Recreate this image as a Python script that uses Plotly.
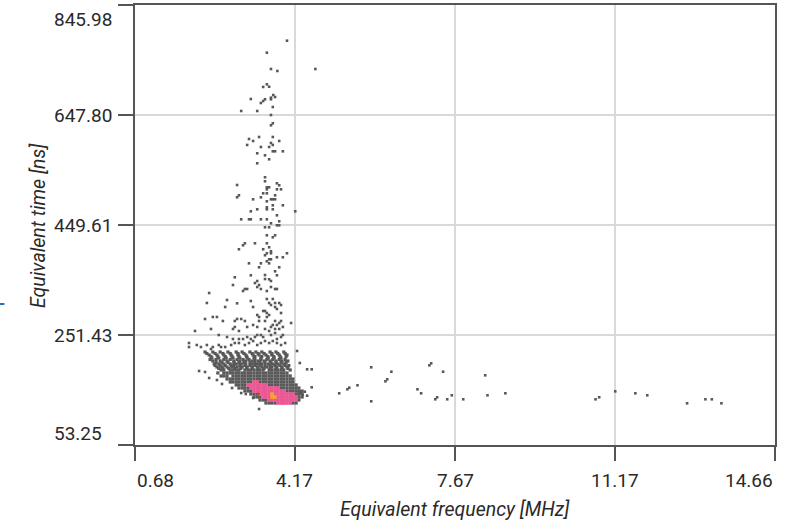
import plotly.graph_objects as go

# ---------------- axis ticks ----------------
x_ticks = [0.68, 4.17, 7.67, 11.17, 14.66]
x_tick_labels = ["0.68", "4.17", "7.67", "11.17", "14.66"]
y_ticks = [53.25, 251.43, 449.61, 647.80, 845.98]
y_tick_labels = ["53.25", "251.43", "449.61", "647.80", "845.98"]

# ---------------- sparse points (frequency MHz, time ns) ----------------
column_points = [
    (4.00, 781.7), (3.56, 760.1), (3.65, 730.7), (3.79, 727.1), (4.62, 730.7), (3.56, 703.1),
    (3.61, 698.8), (3.48, 698.3), (3.70, 683.8), (3.74, 680.2), (3.65, 679.0), (3.65, 676.1),
    (3.52, 676.1), (3.48, 673.0), (3.43, 669.4), (3.21, 676.6), (3.00, 655.0), (3.35, 655.0),
    (3.69, 662.2), (3.65, 647.8), (3.69, 632.8), (3.65, 629.3), (3.39, 608.2), (3.17, 604.6),
    (3.26, 601.0), (3.69, 608.2), (3.83, 601.0), (3.65, 597.4), (3.69, 593.8), (3.13, 593.8),
    (3.43, 590.2), (3.61, 590.2), (3.35, 578.8), (3.52, 575.2), (3.61, 568.0), (3.69, 582.4),
    (3.74, 582.4), (3.91, 582.4), (3.35, 560.8), (3.52, 535.6), (3.52, 528.4), (2.91, 521.7),
    (3.78, 524.7), (3.83, 521.2), (3.56, 517.6), (3.61, 517.6), (3.56, 513.9), (3.78, 513.9),
    (3.87, 513.9), (3.48, 506.7), (3.56, 506.7), (2.95, 503.1), (2.91, 499.5), (3.43, 499.5),
    (3.74, 503.1), (3.26, 495.9), (3.65, 495.9), (3.69, 495.9), (3.74, 495.9), (3.56, 492.3),
    (3.69, 485.1), (3.91, 485.1), (3.56, 481.5), (3.56, 477.9), (3.69, 477.9), (3.35, 477.9),
    (3.21, 474.3), (4.18, 474.3), (3.78, 467.1), (3.00, 459.9), (3.17, 459.9), (3.21, 459.9),
    (3.43, 459.9), (3.56, 459.9), (3.83, 456.3), (3.65, 452.7), (3.78, 449.1), (3.83, 449.1),
    (3.52, 445.5), (3.61, 445.5), (3.56, 431.1), (3.74, 431.1), (3.69, 427.5), (3.08, 416.7),
    (3.04, 413.1), (3.30, 416.7), (3.56, 416.7), (2.95, 405.9), (3.61, 409.5), (3.48, 405.9),
    (3.65, 402.3), (3.65, 398.7), (3.56, 398.7), (4.00, 398.7), (3.52, 395.1), (3.78, 391.5),
    (3.91, 391.5), (3.65, 387.8), (3.61, 387.8), (3.56, 384.2), (3.17, 380.6), (3.43, 380.6),
    (3.61, 380.6), (3.39, 373.4), (3.83, 373.4), (3.74, 366.2), (3.78, 359.0), (3.21, 359.0),
    (2.86, 355.4), (3.61, 351.8),
]

spread_points = [
    (3.52, 359.5), (3.35, 348.7), (3.52, 352.3), (3.65, 348.7), (3.30, 345.1), (3.39, 341.5),
    (3.35, 337.9), (3.43, 334.3), (3.65, 337.9), (3.74, 334.3), (3.78, 334.3), (3.56, 330.7),
    (3.08, 334.3), (3.13, 334.3), (3.04, 330.7), (2.82, 341.5), (2.30, 327.1), (2.69, 314.5),
    (2.25, 309.1), (2.65, 301.9), (3.21, 312.7), (3.26, 301.9), (3.56, 316.3), (3.69, 316.3),
    (3.61, 309.1), (3.65, 305.5), (3.74, 309.1), (3.83, 309.1), (3.87, 305.5), (3.74, 301.9),
    (3.78, 298.3), (2.91, 308.5), (2.38, 283.9), (2.47, 283.9), (3.48, 294.7), (3.52, 294.7),
    (3.56, 291.1), (3.35, 287.5), (3.39, 283.9), (3.56, 283.9), (3.61, 287.5), (3.87, 291.1),
    (2.91, 280.3), (3.00, 280.3), (2.86, 276.7), (3.08, 276.7), (2.21, 280.3), (2.60, 276.7),
    (3.39, 276.7), (3.52, 276.7), (3.74, 276.7), (3.83, 273.1), (3.87, 276.7), (3.78, 269.5),
    (3.69, 269.5), (3.65, 265.9), (3.74, 262.3), (3.26, 269.5), (3.35, 265.9), (3.13, 265.9),
    (2.86, 265.9), (2.82, 262.3), (2.95, 258.7), (3.52, 262.3), (3.61, 258.7), (3.83, 262.3),
    (3.91, 265.9), (4.09, 273.1), (1.99, 258.7), (2.34, 262.3), (2.51, 251.4), (2.69, 247.8),
    (2.82, 244.2), (2.95, 244.2), (3.04, 244.2), (3.13, 247.8), (3.21, 244.2), (3.30, 247.8),
    (3.35, 251.4), (3.43, 251.4), (3.48, 247.8), (3.65, 251.4), (3.74, 255.1), (3.78, 244.2),
    (3.87, 247.8), (3.91, 251.4), (1.86, 237.0), (1.86, 229.8), (2.03, 233.4), (2.12, 229.8),
    (2.25, 233.4), (2.34, 226.2), (2.38, 229.8), (2.51, 233.4), (2.56, 229.8), (2.65, 229.8),
    (2.78, 233.4), (2.86, 237.0), (2.95, 237.0), (3.08, 233.4), (3.17, 237.0), (3.26, 240.6),
    (3.35, 233.4), (3.43, 237.0), (3.52, 240.6), (3.61, 237.0), (3.69, 240.6), (3.78, 237.0),
    (3.87, 233.4), (3.96, 237.0), (4.22, 222.6), (2.08, 186.6), (3.39, 118.1), (2.47, 170.4),
    (2.30, 174.0), (2.21, 184.8), (2.58, 163.2), (2.80, 156.0), (3.10, 145.1), (3.26, 138.0),
    (4.28, 201.0), (3.00, 146.9),
]

tail_points = [
    (4.28, 149.3), (4.34, 143.3), (4.39, 149.3), (4.44, 142.1), (4.31, 146.4), (4.44, 189.6),
    (4.54, 189.6), (4.54, 157.2), (5.14, 146.4), (5.32, 153.6), (5.36, 156.5), (5.54, 160.8),
    (5.84, 193.2), (5.84, 132.0), (6.15, 168.0), (6.19, 171.6), (6.28, 185.3), (6.85, 153.6),
    (6.93, 146.4), (7.11, 196.8), (7.15, 200.4), (7.41, 185.3), (7.24, 135.6), (7.28, 139.2),
    (7.50, 135.6), (7.60, 142.8), (7.85, 135.6), (8.33, 178.8), (8.38, 142.8), (8.77, 146.4),
    (10.74, 135.6), (10.82, 139.2), (11.17, 149.9), (11.61, 146.4), (11.87, 142.8),
    (12.74, 128.4), (13.14, 135.6), (13.28, 135.6), (13.49, 128.4),
]

# ---------------- dense cluster, row by row (time ns -> frequencies MHz) ----------------
dense_row_time = [220.8, 218.1, 215.4, 212.7, 210.0, 207.3, 204.6, 201.9, 199.2, 196.5,
                  193.8, 191.1, 188.4, 183.0, 177.6, 172.2,
                  166.8, 161.4, 155.9, 150.5, 145.1, 139.7, 134.3, 128.9]
dense_row_gray = [
    [2.21, 2.38, 2.54, 2.71, 2.89, 3.02, 3.19, 3.32, 3.45, 3.63, 3.76, 3.93],
    [2.25, 2.43, 2.60, 2.76, 2.93, 3.06, 3.24, 3.37, 3.50, 3.67, 3.80, 3.96],
    [2.30, 2.47, 2.62, 2.78, 2.93, 3.10, 3.26, 3.39, 3.54, 3.67, 3.83, 4.00],
    [2.34, 2.49, 2.65, 2.80, 2.95, 3.12, 3.30, 3.45, 3.58, 3.71, 3.85, 3.98],
    [2.36, 2.51, 2.67, 2.82, 2.97, 3.13, 3.28, 3.43, 3.59, 3.72, 3.87],
    [2.32, 2.45, 2.62, 2.76, 2.91, 3.04, 3.17, 3.30, 3.43, 3.56, 3.69, 3.83, 3.96],
    [2.38, 2.54, 2.69, 2.84, 2.97, 3.10, 3.24, 3.37, 3.50, 3.63, 3.76, 3.89, 4.02],
    [2.45, 2.58, 2.71, 2.84, 2.95, 3.06, 3.19, 3.30, 3.41, 3.52, 3.65, 3.76, 3.87, 3.98],
    [2.41, 2.51, 2.62, 2.76, 2.89, 3.00, 3.10, 3.24, 3.35, 3.45, 3.59, 3.69, 3.80, 3.93],
    [2.43, 2.54, 2.65, 2.78, 2.84, 2.97, 3.08, 3.19, 3.30, 3.41, 3.52, 3.63, 3.74, 3.85,
     3.96, 4.04],
    [2.47, 2.58, 2.69, 2.80, 2.91, 3.02, 3.13, 3.24, 3.35, 3.45, 3.56, 3.67, 3.78, 3.89, 4.00],
    [2.51, 2.60, 2.73, 2.86, 2.99, 3.12, 3.24, 3.37, 3.50, 3.63, 3.76, 3.89, 4.02],
    [2.56, 2.62, 2.76, 2.82, 2.89, 2.95, 3.08, 3.15, 3.21, 3.28, 3.35, 3.41, 3.48, 3.61, 3.67,
     3.74, 3.80, 3.87, 3.93, 4.07],
    [2.49, 2.62, 2.69, 2.76, 2.82, 2.89, 2.95, 3.02, 3.08, 3.15, 3.21, 3.28, 3.35, 3.41, 3.48,
     3.54, 3.61, 3.67, 3.74, 3.80, 3.87, 3.93, 4.00],
    [2.56, 2.62, 2.69, 2.82, 2.89, 2.95, 3.02, 3.08, 3.15, 3.21, 3.28, 3.35, 3.41, 3.48, 3.54,
     3.61, 3.67, 3.74, 3.80, 3.87, 3.93, 4.00, 4.07],
    [2.69, 2.76, 2.82, 2.89, 2.95, 3.02, 3.08, 3.15, 3.21, 3.28, 3.35, 3.41, 3.48, 3.54, 3.61,
     3.67, 3.74, 3.80, 3.87, 3.93, 4.00, 4.07, 4.13],
    [2.76, 2.82, 2.89, 2.95, 3.02, 3.08, 3.15, 3.21, 3.41, 3.48, 3.54, 3.61, 3.67, 3.74, 3.80,
     3.87, 3.93, 4.00, 4.07, 4.13],
    [2.89, 2.95, 3.02, 3.08, 3.61, 3.67, 3.74, 3.80, 3.87, 3.93, 4.00, 4.07, 4.13, 4.20],
    [2.95, 3.02, 3.08, 3.15, 3.87, 3.93, 4.00, 4.07, 4.13, 4.20, 4.26],
    [3.08, 3.15, 3.21, 4.00, 4.07, 4.13, 4.20, 4.26, 4.33],
    [3.21, 3.28, 3.35, 4.20, 4.26, 4.33],
    [3.28, 3.35, 3.41, 4.26, 4.33],
    [3.41, 3.48, 3.54, 4.26],
    [3.54, 3.61, 3.67, 3.74, 4.13, 4.20],
]
dense_row_pink = [
    [], [], [], [], [], [], [], [], [], [], [], [], [], [], [], [],
    [3.28, 3.35],
    [3.15, 3.21, 3.28, 3.35, 3.41, 3.48, 3.54],
    [3.21, 3.28, 3.35, 3.41, 3.48, 3.54, 3.61, 3.67, 3.74, 3.80],
    [3.28, 3.35, 3.41, 3.48, 3.54, 3.61, 3.67, 3.74, 3.80, 3.87, 3.93],
    [3.41, 3.48, 3.54, 3.61, 3.74, 3.80, 3.87, 3.93, 4.00, 4.07, 4.13],
    [3.48, 3.54, 3.61, 3.80, 3.87, 3.93, 4.00, 4.07, 4.13, 4.20],
    [3.61, 3.67, 3.74, 3.80, 3.87, 3.93, 4.00, 4.07, 4.13, 4.20],
    [3.80, 3.87, 3.93, 4.00, 4.07],
]
hot_points = [(3.67, 145.1), (3.67, 139.7), (3.74, 139.7)]
red_points = [(3.37, 145.1)]


def unzip(pairs):
    return [p[0] for p in pairs], [p[1] for p in pairs]


def flatten_rows(times, rows):
    xs, ys = [], []
    for t, row in zip(times, rows):
        for f in row:
            xs.append(f)
            ys.append(t)
    return xs, ys


GRAY = "#585858"
PINK = "#ea5793"
ORANGE = "#f6a21e"

fig = go.Figure()

sx, sy = unzip(column_points + spread_points + tail_points)
fig.add_trace(go.Scatter(x=sx, y=sy, mode="markers", hoverinfo="skip",
                         marker=dict(symbol="square", size=2.6, color=GRAY, line=dict(width=0))))

gx, gy = flatten_rows(dense_row_time, dense_row_gray)
fig.add_trace(go.Scatter(x=gx, y=gy, mode="markers", hoverinfo="skip",
                         marker=dict(symbol="square", size=3.2, color=GRAY, line=dict(width=0))))

px_, py_ = flatten_rows(dense_row_time, dense_row_pink)
fig.add_trace(go.Scatter(x=px_, y=py_, mode="markers", hoverinfo="skip",
                         marker=dict(symbol="square", size=3.6, color=PINK, line=dict(width=0))))

hx, hy = unzip(hot_points)
fig.add_trace(go.Scatter(x=hx, y=hy, mode="markers", hoverinfo="skip",
                         marker=dict(symbol="square", size=3.4, color=ORANGE, line=dict(width=0))))

rx, ry = unzip(red_points)
fig.add_trace(go.Scatter(x=rx, y=ry, mode="markers", hoverinfo="skip",
                         marker=dict(symbol="square", size=2.6, color="#d8342c", line=dict(width=0))))

AXIS_COLOR = "#555555"
GRID_COLOR = "#d9d9d9"
FONT = "Roboto, 'Noto Sans', sans-serif"
TXT = "#2a2a2a"

common_axis = dict(showline=True, linecolor=AXIS_COLOR, linewidth=2, mirror=True,
                   showgrid=True, gridcolor=GRID_COLOR, gridwidth=2, zeroline=False,
                   ticks="outside", tickcolor=AXIS_COLOR, tickwidth=2,
                   showticklabels=False, fixedrange=True, automargin=False)

fig.update_layout(
    width=789, height=524,
    margin=dict(l=135, r=14, t=5, b=79, pad=0, autoexpand=False),
    plot_bgcolor="white", paper_bgcolor="white",
    showlegend=False,
    xaxis=dict(range=[x_ticks[0], x_ticks[-1]], tickvals=x_ticks, ticklen=14, **common_axis),
    yaxis=dict(range=[y_ticks[0], y_ticks[-1]], tickvals=y_ticks, ticklen=15, **common_axis),
)

annotations = []
# x tick labels
for i, (v, lab) in enumerate(zip(x_ticks, x_tick_labels)):
    anchor = "left" if i == 0 else ("right" if i == len(x_ticks) - 1 else "center")
    annotations.append(dict(x=v, xref="x", y=0, yref="paper", yanchor="middle", yshift=-35,
                            xanchor=anchor, text=lab, showarrow=False,
                            font=dict(family=FONT, size=19, color=TXT)))
# y tick labels (left aligned)
for i, (v, lab) in enumerate(zip(y_ticks, y_tick_labels)):
    shift = 12 if i == 0 else (-14 if i == len(y_ticks) - 1 else 0)
    annotations.append(dict(x=-0.1297, xref="paper", xanchor="left", y=v, yref="y",
                            yanchor="middle", yshift=shift, text=lab, showarrow=False,
                            font=dict(family=FONT, size=19, color=TXT)))
# axis titles
annotations.append(dict(x=0.5, xref="paper", y=0, yref="paper", yanchor="middle", yshift=-64,
                        xanchor="center", text="<i>Equivalent frequency [MHz]</i>",
                        showarrow=False, font=dict(family=FONT, size=19.5, color=TXT)))
annotations.append(dict(x=-0.1516, xref="paper", xanchor="center", y=0.5, yref="paper",
                        yanchor="middle", textangle=-90, text="<i>Equivalent time [ns]</i>",
                        showarrow=False, font=dict(family=FONT, size=19.5, color=TXT)))
fig.update_layout(annotations=annotations)

# small blue marker at the left edge
fig.add_shape(type="line", xref="paper", yref="paper", x0=-0.2109, x1=-0.2040,
              y0=0.3205, y1=0.3205, line=dict(color="#2a6ebb", width=2))

fig.write_html("out.html", config={"displayModeBar": False},
               post_script="document.body.style.margin='0';document.body.style.overflow='hidden';")
